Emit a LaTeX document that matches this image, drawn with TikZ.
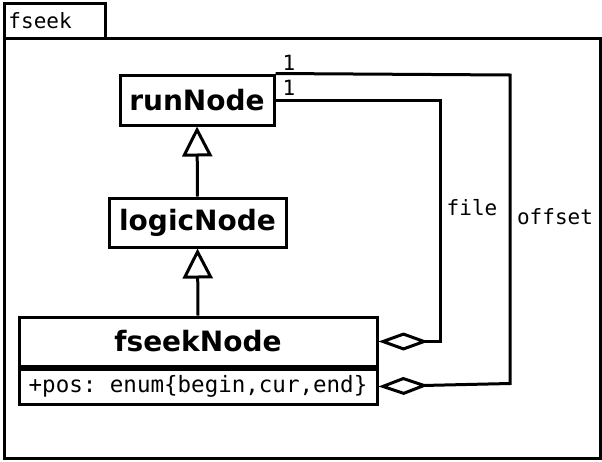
\documentclass[tikz,border=0pt]{standalone}
\usepackage{fontspec}
\setmainfont{DejaVu Sans}
\setmonofont{DejaVu Sans Mono}
\usetikzlibrary{arrows.meta}
\begin{document}
\begin{tikzpicture}[x=1pt,y=-1pt,line width=3pt,
 cls/.style={draw,inner sep=0pt,font=\fontsize{28}{32}\selectfont\bfseries},
 lbl/.style={font=\ttfamily\fontsize{21}{24}\selectfont,inner sep=1pt},
 gen/.style={-{Triangle[open,length=30pt,width=30pt,line width=3pt]}},
 agg/.style={-{Diamond[open,length=50pt,width=18pt,line width=3pt]}}]
\useasboundingbox (0,0) rectangle (602,461);
\draw (4,3) rectangle (105,38);
\node[lbl,anchor=west] (pk) at (6,21) {fseek};
\draw (4,38) rectangle (600,458);
\node[cls,minimum width=154pt,minimum height=50pt] (run) at (197,100) {runNode};
\node[cls,minimum width=177pt,minimum height=49pt] (logic) at (197.5,222.5) {logicNode};
\node[cls,minimum width=358pt,minimum height=49pt] (fseek) at (198,341.5) {fseekNode};
\node[draw,lbl,anchor=north,minimum width=358pt,minimum height=35pt,font=\ttfamily\fontsize{22.5}{26}\selectfont,inner sep=0pt] (attr) at (fseek.south) {+pos: enum\{begin,cur,end\}};
\draw[gen] (logic.north) -- (run.south);
\draw[gen] (fseek.north) -- (logic.south);
\coordinate (d1) at (fseek.east);
\coordinate (d2) at (attr.east);
\draw[agg] (run.east) -- (440,100) -- (440,341.5) -- (d1);
\draw[agg] (run.north east) -- (510,75) -- (510,383.5) -- (d2);
\node[lbl] (f) at (472,208) {file};
\node[lbl] (o) at (555,217) {offset};
\node[lbl] (m1) at (289,88) {1};
\node[lbl] (m2) at (289,63) {1};
\end{tikzpicture}
\end{document}
